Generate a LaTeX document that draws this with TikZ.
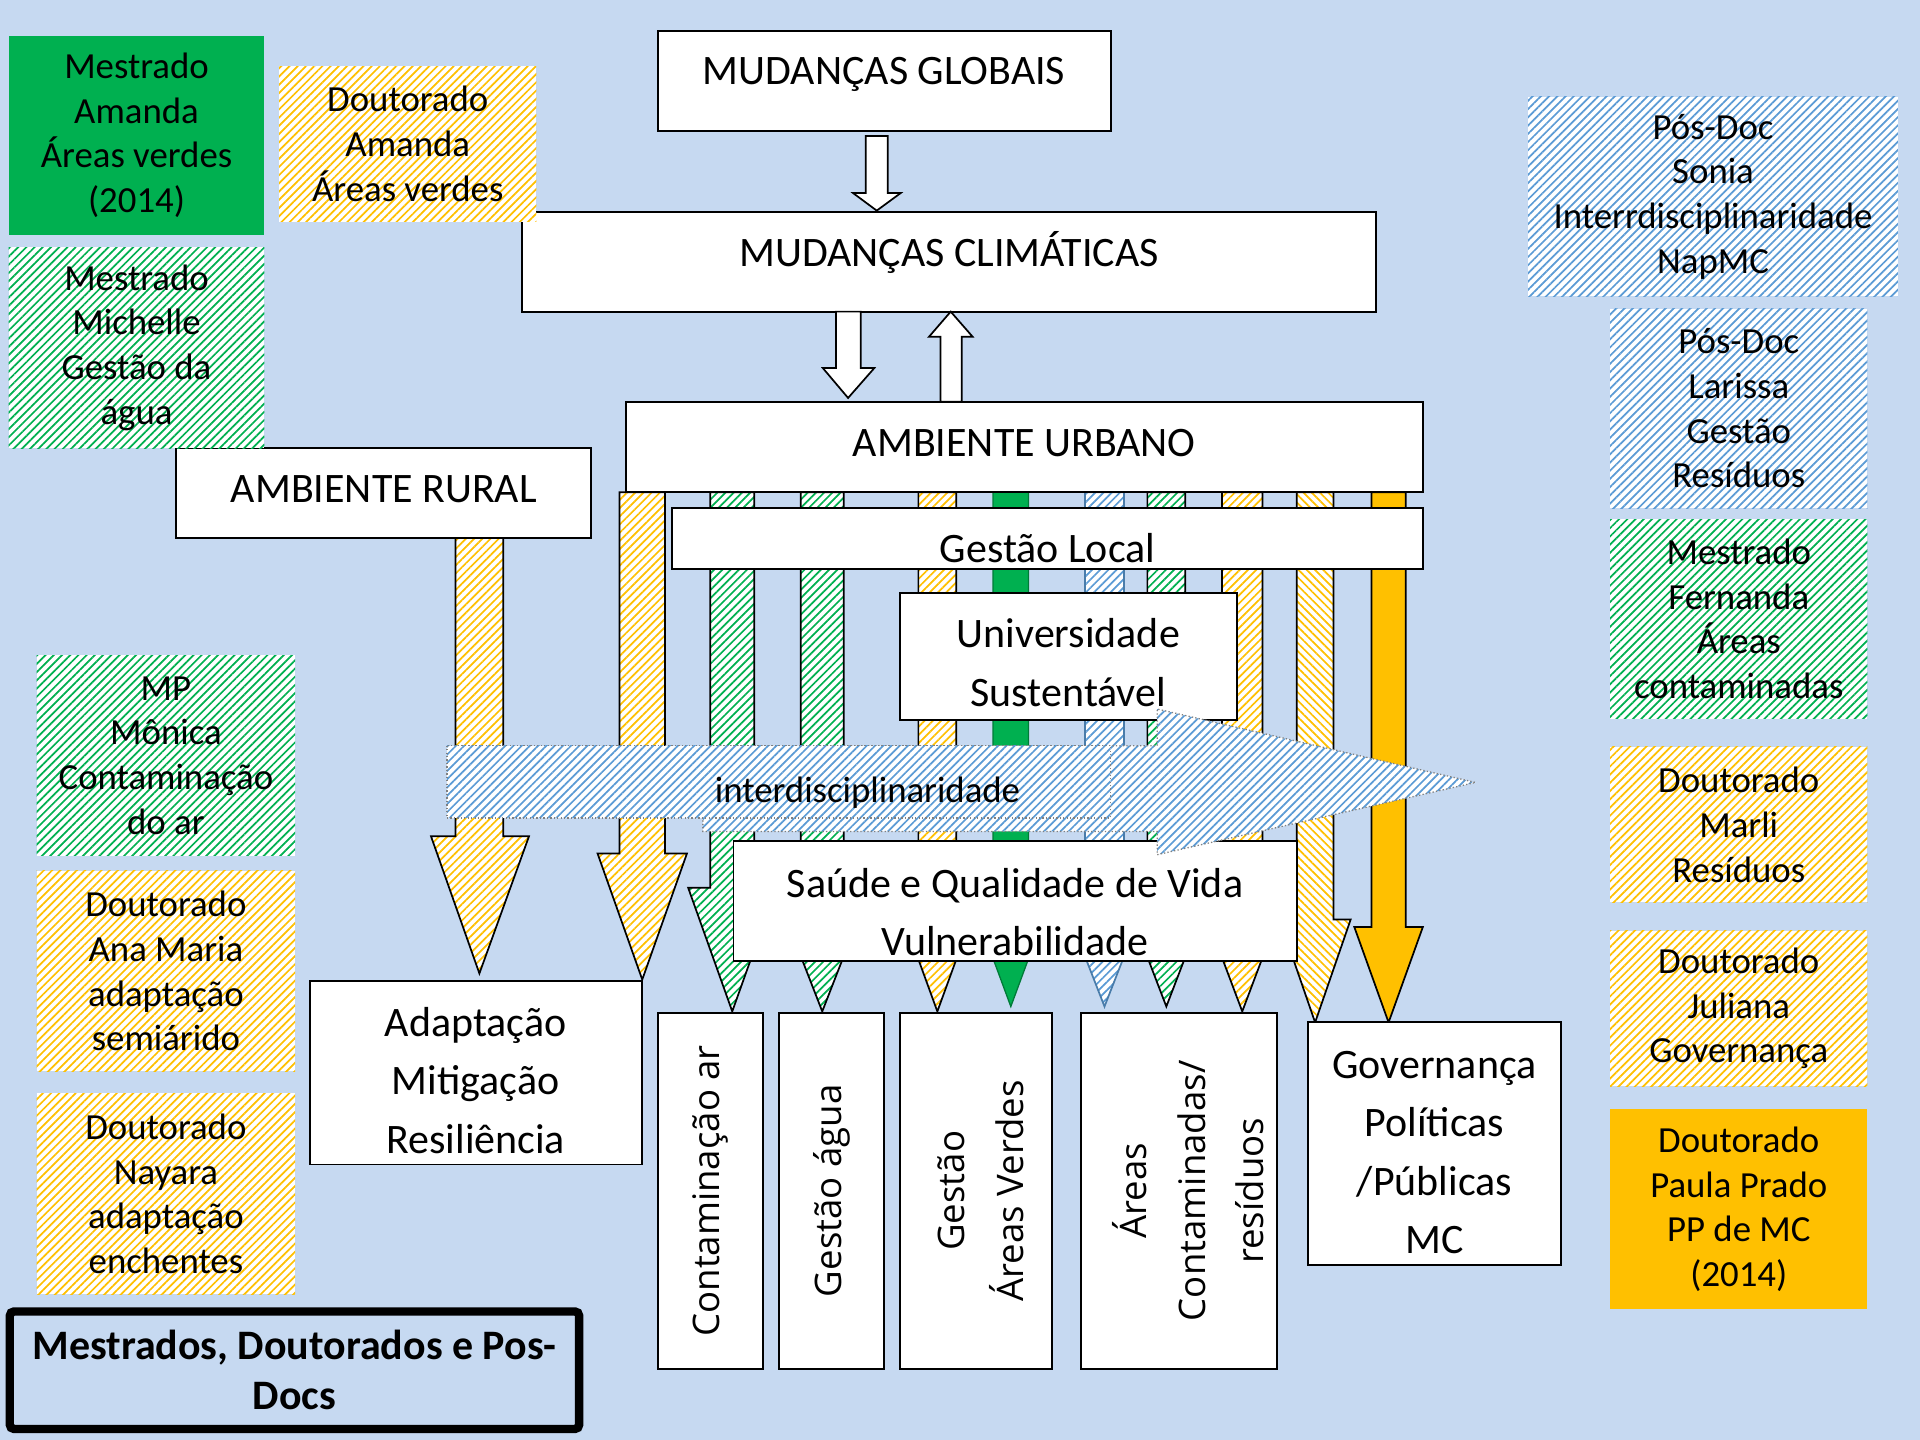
\documentclass[tikz,border=0pt]{standalone}
\usepackage{fontspec}
\setmainfont{Carlito}
\newfontfamily\osans{Open Sans}
\usetikzlibrary{patterns.meta}

\definecolor{bg}{RGB}{198,217,241}
\definecolor{grn}{RGB}{0,176,80}
\definecolor{ylw}{RGB}{255,192,0}
\definecolor{blu}{RGB}{91,155,213}

\tikzset{
	sz/.style 2 args={minimum width=#1*0.02cm, minimum height=#2*0.02cm},
	hatch/.style 2 args={preaction={fill=white}, pattern={Lines[angle=#2,distance=2.7pt,line width=0.8pt]}, pattern color=#1},
	ylwh/.style={hatch={ylw}{45}},
	grnh/.style={hatch={grn}{45}},
	bluh/.style={hatch={blu}{45}},
	lbl/.style={align=center, inner sep=0pt, font=\fontsize{17.1pt}{20.8pt}\selectfont},
	box/.style={draw, fill=white, line width=0.9pt, align=center, inner sep=0pt, font=\fontsize{19.5pt}{27.2pt}\selectfont},
	vbox/.style={box, rotate=90, font=\osans\fontsize{17pt}{27.2pt}\selectfont},
	harrow/.style={draw, fill=white, line width=0.8pt},
	ycol/.style={ylwh, draw, line width=0.8pt},
	ycolb/.style={hatch={ylw}{-45}, draw, line width=0.8pt},
	gcol/.style={grnh, draw, line width=0.8pt},
	bcol/.style={bluh, draw=blu!80!black, line width=0.8pt},
	gfcol/.style={fill=grn, draw=grn!70!black, line width=0.6pt},
	ocol/.style={fill=ylw, draw, line width=0.8pt},
	inter/.style={bluh, postaction={draw=gray, densely dotted, line width=0.6pt}}
}

\begin{document}
\begin{tikzpicture}[x=0.02cm, y=-0.02cm]
	\useasboundingbox (0,0) rectangle (1568,1176);
	\fill[bg] (0,0) rectangle (1568,1176);
	
	% columns
	\draw[ycol] (372,439) -- (372,683) -- (352,683) -- (391.5,795) -- (432,683) -- (411,683) -- (411,439) -- cycle;
	\draw[ycol] (506,402) -- (506,697) -- (488,697) -- (524.5,800) -- (561,697) -- (543,697) -- (543,402) -- cycle;
	\foreach \xl/\xr/\yh/\nt/\yt/\st in {580/616/725/18/826/gcol, 654/689/745/14/826/gcol, 750/781/745/14/826/ycol, 811/840/745/14/822/gfcol, 886/918/745/14/822/bcol, 937/968/745/14/822/gcol, 998/1031/745/14/826/ycol, 1059/1089/751/14/835/ycolb, 1120/1148/757/14/835/ocol}
		\draw[\st] (\xl,402) -- (\xl,\yh) -- ({\xl-\nt},\yh) -- ({(\xl+\xr)/2},\yt) -- ({\xr+\nt},\yh) -- (\xr,\yh) -- (\xr,402) -- cycle;
	
	% boxes
	\node[box, sz={370}{82}, text height=9.5pt, text depth=6pt] (mg) at (722,66) {MUDANÇAS GLOBAIS};
	\node[box, sz={698}{81.5}, text height=10.6pt, text depth=6pt] (mc) at (775,213.7) {MUDANÇAS CLIMÁTICAS};
	\node[box, sz={651}{73.5}, text height=14.6pt, text depth=6pt] (au) at (836.5,365.3) {AMBIENTE URBANO};
	\node[box, sz={339}{73}, text height=14.6pt, text depth=6pt] (ar) at (313.5,402.5) {AMBIENTE RURAL};
	\node[box, sz={613}{50}, text height=24pt, text depth=2.4pt] (gl) at (855.5,440) {Gestão Local};
	\node[box, sz={275}{104}] (us) at (872.5,536) {\rule{0pt}{19.3pt}Universidade\\Sustentável};
	\node[box, sz={460}{98}] (sq) at (829,736) {\rule{0pt}{23.5pt}Saúde e Qualidade de Vida\\Vulnerabilidade};
	\node[box, sz={271}{150}] (amr) at (388.5,876) {\rule{0pt}{20.5pt}Adaptação\\Mitigação\\Resiliência};
	\node[vbox, sz={291}{86}] (v1) at (580,972.5) {Contaminação ar};
	\node[vbox, sz={291}{86}] (v2) at (679,972.5) {Gestão água};
	\node[vbox, sz={291}{124}] (v3) at (797,972.5) {\rule{0pt}{17pt}Gestão\\Áreas Verdes};
	\node[vbox, sz={291}{160}] (v4) at (963,972.5) {\rule{0pt}{24.3pt}Áreas\\Contaminadas/\\resíduos};
	\node[box, sz={207}{198}] (gov) at (1171.5,934) {\rule{0pt}{20.7pt}Governança\\Políticas\\/Públicas\\MC};
	\node[draw, line width=3.9pt, rounded corners=2pt, align=center, inner sep=0pt, sz={465}{96}, font=\bfseries\fontsize{19.5pt}{23.2pt}\selectfont] (leg) at (240.5,1119) {Mestrados, Doutorados e Pos-\\Docs};
	
	% hollow arrows
	\draw[harrow] (707,111) -- (707,157.7) -- (696.7,157.7) -- (716,172) -- (735.5,157.7) -- (725,157.7) -- (725,111) -- cycle;
	\draw[harrow] (682.7,254.5) -- (682.7,300.6) -- (672,300.6) -- (692.6,325) -- (714,300.6) -- (703,300.6) -- (703,254.5) -- cycle;
	\draw[harrow] (768,328) -- (768,275) -- (758.7,275) -- (776.4,254.5) -- (794.3,275) -- (785.4,275) -- (785.4,328) -- cycle;
	
	% interdisciplinaridade
	\path[inter] (574,609) -- (945,609) -- (945,579) -- (1205,639) -- (945,698) -- (945,679) -- (574,679) -- cycle;
	\path[inter] (365,609) rectangle (907,668);
	\node[lbl] (inter) at (708.5,647) {interdisciplinaridade};
	
	% labels
	\node[lbl, fill=grn, sz={209}{163}] (m-amanda) at (111.5,110.5) {Mestrado\\Amanda\\Áreas verdes\\(2014)};
	\node[lbl, ylwh, sz={210}{127}] (d-amanda) at (333,117.5) {Doutorado\\Amanda\\Áreas verdes};
	\node[lbl, grnh, sz={209}{164}] (m-michelle) at (111.5,284) {Mestrado\\Michelle\\Gestão da\\água};
	\node[lbl, grnh, sz={211}{164}] (mp-monica) at (135.5,617) {MP\\Mônica\\Contaminação\\do ar};
	\node[lbl, ylwh, sz={211}{164}] (d-ana) at (135.5,793) {Doutorado\\Ana Maria\\adaptação\\semiárido};
	\node[lbl, ylwh, sz={211}{164}] (d-nayara) at (135.5,975) {Doutorado\\Nayara\\adaptação\\enchentes};
	\node[lbl, bluh, sz={302}{163}] (p-sonia) at (1399,160.5) {Pós-Doc\\Sonia\\Interrdisciplinaridade\\NapMC};
	\node[lbl, bluh, sz={210}{163}] (p-larissa) at (1420,333.5) {Pós-Doc\\Larissa\\Gestão\\Resíduos};
	\node[lbl, grnh, sz={210}{163}] (m-fernanda) at (1420,505.5) {Mestrado\\Fernanda\\Áreas\\contaminadas};
	\node[lbl, ylwh, sz={210}{127}] (d-marli) at (1420,673.5) {Doutorado\\Marli\\Resíduos};
	\node[lbl, ylwh, sz={210}{127}] (d-juliana) at (1420,823.5) {Doutorado\\Juliana\\Governança};
	\node[lbl, fill=ylw, sz={210}{163}] (d-paula) at (1420,987.5) {Doutorado\\Paula Prado\\PP de MC\\(2014)};
\end{tikzpicture}
\end{document}
